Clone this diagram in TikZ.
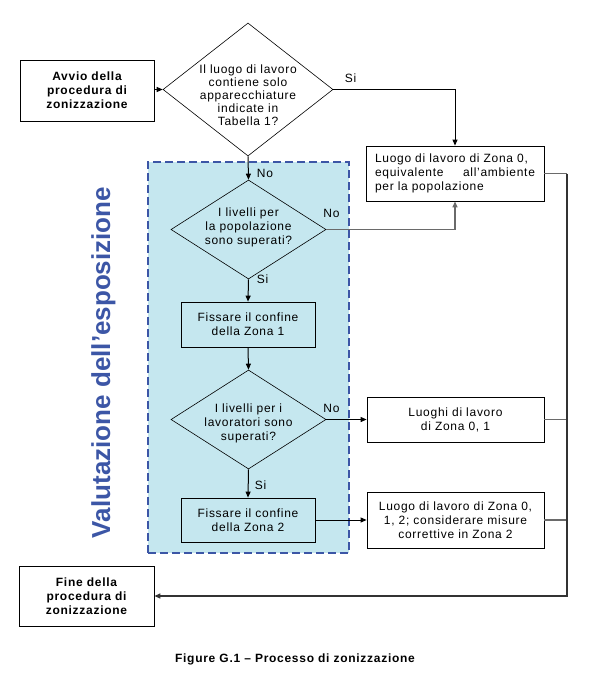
\documentclass[tikz,border=0pt]{standalone}
\usepackage{fontspec}
\setmainfont{Liberation Sans}[LetterSpace=6]
\newfontfamily\vfont{Liberation Sans}
\usetikzlibrary{shapes.geometric,arrows.meta}
\definecolor{zonefill}{HTML}{C5E7EF}
\definecolor{vblue}{HTML}{3C56A6}
\definecolor{lgray}{HTML}{6A6A6A}
\begin{document}
\begin{tikzpicture}[x=1pt,y=-1pt,
  font=\fontsize{12}{14}\selectfont,
  box/.style={draw, line width=0.8pt, inner sep=2pt, align=center},
  dia/.style={diamond, draw, line width=0.6pt, inner sep=0pt},
  dtext/.style={align=center, inner sep=0pt},
  lab/.style={inner sep=0pt},
  conn/.style={line width=1pt, -{Triangle[length=6pt,width=5pt]}},
  gline/.style={line width=1.3pt, draw=lgray}]
\useasboundingbox (0,0) rectangle (597,677);

% exposure evaluation zone
\node[draw=vblue, dash pattern=on 8pt off 4pt, line width=1.6pt, fill=zonefill,
      minimum width=201pt, minimum height=391pt, inner sep=0pt] (zone) at (248.5,357.5) {};
\node[rotate=90, anchor=base, text=vblue, font=\vfont\bfseries\fontsize{26}{26}\selectfont]
      (vt) at (110,362.5) {Valutazione dell’esposizione};

% nodes
\node[box, minimum width=134pt, minimum height=61pt, font=\bfseries\fontsize{12}{14}\selectfont]
      (start) at (87,90.5) {Avvio della\\procedura di\\zonizzazione};
\node[dia, minimum width=170pt, minimum height=133pt] (d1) at (248,89.5) {};
\node[dtext, font=\fontsize{12}{13}\selectfont] (d1t) at (248,95)
      {Il luogo di lavoro\\contiene solo\\apparecchiature\\indicate in\\Tabella 1?};

\node[box, minimum width=178pt, minimum height=55pt, text width=160pt, align=left]
      (box0) at (455,173.5)
      {Luogo di lavoro di Zona 0,\\\leavevmode\hbox to \linewidth{equivalente\hfill all’ambiente}\\per la popolazione};

\node[dia, minimum width=155pt, minimum height=99pt] (d2) at (248.5,229.5) {};
\node[dtext] (d2t) at (248.5,227) {I livelli per\\la popolazione\\sono superati?};

\node[box, minimum width=134pt, minimum height=45pt] (z1) at (248,324.5)
      {Fissare il confine\\della Zona 1};

\node[dia, minimum width=155pt, minimum height=99pt] (d3) at (248.5,419.5) {};
\node[dtext] (d3t) at (248.5,423) {I livelli per i\\lavoratori sono\\superati?};

\node[box, minimum width=177pt, minimum height=45pt] (box01) at (455.5,419.5)
      {Luoghi di lavoro\\di Zona 0, 1};

\node[box, minimum width=134pt, minimum height=44pt] (z2) at (248,520)
      {Fissare il confine\\della Zona 2};

\node[box, minimum width=177pt, minimum height=56pt] (box012) at (455.5,520)
      {Luogo di lavoro di Zona 0,\\1, 2; considerare misure\\correttive in Zona 2};

\node[box, minimum width=135pt, minimum height=60pt, font=\bfseries\fontsize{12}{14}\selectfont]
      (fine) at (86.5,596) {Fine della\\procedura di\\zonizzazione};

\node[font=\bfseries\fontsize{12}{14}\selectfont, inner sep=0pt] (cap) at (295,659)
      {Figure G.1 -- Processo di zonizzazione};

\coordinate (vr) at (567,173.5);

% labels
\node[lab] (l1) at (350.5,78) {Si};
\node[lab] (l2) at (265,173) {No};
\node[lab] (l3) at (331.5,213) {No};
\node[lab] (l4) at (262.5,279) {Si};
\node[lab] (l5) at (331.5,408) {No};
\node[lab] (l6) at (260.5,485) {Si};

% connectors
\draw[conn] (start.east |- d1.west) -- (d1.west);
\draw[conn] (d1.east) -| (box0.north);
\draw[conn] (d1.south) -- (d2.north);
\draw[conn, draw=lgray, line width=1.3pt] (d2.east) -| (box0.south);
\draw[conn] (d2.south) -- (z1.north);
\draw[conn] (z1.south) -- (d3.north);
\draw[conn] (d3.east) -- (box01.west);
\draw[conn] (d3.south) -- (z2.north);
\draw[conn] (z2.east) -- (box012.west);
\draw[gline] (box0.east) -- (vr);
\draw[gline] (box01.east) -- (box01.east -| vr);
\draw[gline] (box012.east) -- (box012.east -| vr);
\draw[conn, line width=1.3pt, draw=black!80] (vr) |- (fine.east);
\end{tikzpicture}
\end{document}
